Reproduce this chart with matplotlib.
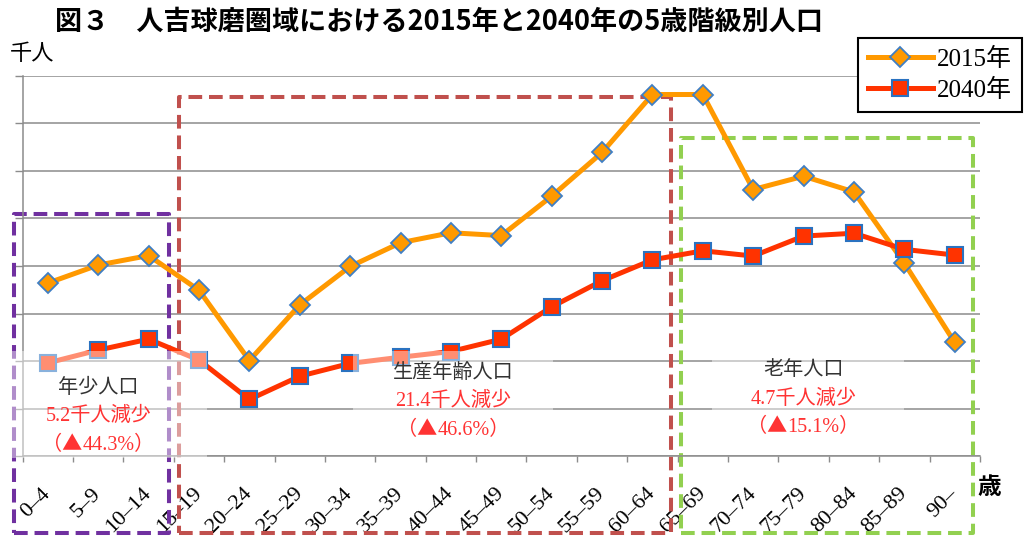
import matplotlib
matplotlib.use("Agg")
import matplotlib.pyplot as plt
from matplotlib.patches import Rectangle
from matplotlib.offsetbox import TextArea, HPacker, AnnotationBbox

# 5歳階級別人口（千人）
age_groups = ["0–4", "5–9", "10–14", "15–19", "20–24", "25–29", "30–34",
              "35–39", "40–44", "45–49", "50–54", "55–59", "60–64", "65–69",
              "70–74", "75–79", "80–84", "85–89", "90–"]
pop_2015 = [3.64, 4.02, 4.22, 3.49, 2.01, 3.18, 3.99, 4.49, 4.70, 4.64,
            5.47, 6.39, 7.61, 7.61, 5.61, 5.89, 5.56, 4.06, 2.39]
pop_2040 = [1.96, 2.23, 2.46, 2.02, 1.19, 1.68, 1.95, 2.08, 2.20, 2.46,
            3.14, 3.69, 4.13, 4.32, 4.21, 4.63, 4.69, 4.35, 4.23]

group_names = ["年少人口", "生産年齢人口", "老年人口"]
group_decrease = ["5.2千人減少", "21.4千人減少", "4.7千人減少"]
group_rate = ["（▲44.3%）", "（▲46.6%）", "（▲15.1%）"]

SERIF_JP = ["Liberation Serif", "Noto Sans CJK JP"]
GOTHIC = ["Noto Sans CJK JP", "DejaVu Sans"]
GRID = "#8c8c8c"
RED_TEXT = "#FF3333"


def main():
    fig = plt.figure(figsize=(10.25, 5.37), dpi=100)
    ax = fig.add_axes([0.0221, 0.1508, 0.9339, 0.7077])

    x = list(range(len(age_groups)))
    ax.set_xlim(-0.5, len(age_groups) - 0.5)
    ax.set_ylim(0, 8)

    # 目盛・罫線
    ax.set_yticks(range(0, 9))
    ax.set_yticklabels([])
    ax.tick_params(axis="y", length=5.5, width=1, color=GRID, direction="out")
    ax.grid(axis="y", color=GRID, lw=1.1, zorder=0.5)
    ax.set_axisbelow(True)
    ax.set_xticks(x)
    ax.set_xticks([i - 0.5 for i in range(len(age_groups) + 1)], minor=True)
    ax.tick_params(axis="x", which="major", length=0, pad=25)
    ax.tick_params(axis="x", which="minor", length=4.5, width=1, color=GRID)
    ax.set_xticklabels(age_groups, rotation=45, ha="right", va="center",
                       rotation_mode="anchor", fontsize=16, family=SERIF_JP)
    for side in ("top", "right"):
        ax.spines[side].set_visible(False)
    for side in ("left", "bottom"):
        ax.spines[side].set_color(GRID)
        ax.spines[side].set_linewidth(1.1)

    # 系列
    ax.plot(x, pop_2015, color="#FF9900", lw=3.6, marker="D", ms=10,
            mfc="#FF9900", mec="#3F7FC4", mew=1.3, label="2015年", zorder=3,
            clip_on=False)
    ax.plot(x, pop_2040, color="#FF3300", lw=3.6, marker="s", ms=11,
            mfc="#FF3300", mec="#2A72C0", mew=1.5, label="2040年", zorder=3,
            clip_on=False)

    # 年齢区分の点線枠
    dash = (0, (3.4, 1.7))
    frames = [
        ((-0.673, -1.62), 3.07, 6.71, "#7030A0"),
        ((2.60, -1.62), 9.76, 9.18, "#C0504D"),
        ((12.56, -1.62), 5.80, 8.31, "#92D050"),
    ]
    for (x0, y0), w, h, col in frames:
        ax.add_patch(Rectangle((x0, y0), w, h, fill=False, ec=col, lw=2.9,
                               ls=dash, joinstyle="round", clip_on=False,
                               zorder=2))

    # 注記の背景（半透明）
    backs = [
        ((-0.75, -0.04), 3.91, 2.26),
        ((6.05, 0.34), 3.97, 1.88),
        ((13.18, 0.34), 3.82, 1.96),
    ]
    for (x0, y0), w, h in backs:
        ax.add_patch(Rectangle((x0, y0), w, h, fc="white", ec="none",
                               alpha=0.45, clip_on=False, zorder=4))

    # 注記テキスト
    label_pos = [(1.0, 1.42), (8.05, 1.74), (15.0, 1.79)]
    for (tx, ty), name, dec, rate in zip(label_pos, group_names,
                                         group_decrease, group_rate):
        ax.text(tx, ty, name, ha="center", va="center", fontsize=14.5,
                family=SERIF_JP, color="#333333", zorder=5)
        ax.text(tx, ty - 0.59, dec, ha="center", va="center", fontsize=14.5,
                family=SERIF_JP, color=RED_TEXT, zorder=5)
        # 括弧と▲は全角で、数字は明朝風に
        head = TextArea(rate[:2], textprops=dict(family=GOTHIC, size=14.5,
                                                 color=RED_TEXT))
        tail = TextArea(rate[2:], textprops=dict(family=SERIF_JP, size=14.5,
                                                 color=RED_TEXT))
        packed = HPacker(children=[head, tail], pad=0, sep=0, align="baseline")
        ab = AnnotationBbox(packed, (tx, ty - 1.18), xycoords="data",
                            frameon=False, box_alignment=(0.5, 0.5), pad=0,
                            annotation_clip=False, zorder=5)
        ax.add_artist(ab)

    leg = ax.legend(loc="upper right", bbox_to_anchor=(1022 / 1025, 1 - 38 / 537),
                    bbox_transform=fig.transFigure, prop={"family": SERIF_JP, "size": 18},
                    frameon=True, fancybox=False, framealpha=1, edgecolor="black",
                    handlelength=2.6, handletextpad=0.18, borderpad=0.4,
                    labelspacing=0.3, borderaxespad=0)
    leg.get_frame().set_linewidth(1.5)

    fig.text(55 / 1025, 1 - 22 / 537,
             "図３　人吉球磨圏域における2015年と2040年の5歳階級別人口",
             ha="left", va="center", fontsize=19.5, fontweight="bold", family=GOTHIC)
    fig.text(10 / 1025, 1 - 54 / 537, "千人", ha="left", va="center",
             fontsize=16, family=GOTHIC)
    fig.text(989 / 1025, 1 - 487 / 537, "歳", ha="center", va="center",
             fontsize=17, fontweight="bold", family=GOTHIC)

    fig.savefig("out.png", dpi=100)
    plt.close(fig)


if __name__ == "__main__":
    main()
